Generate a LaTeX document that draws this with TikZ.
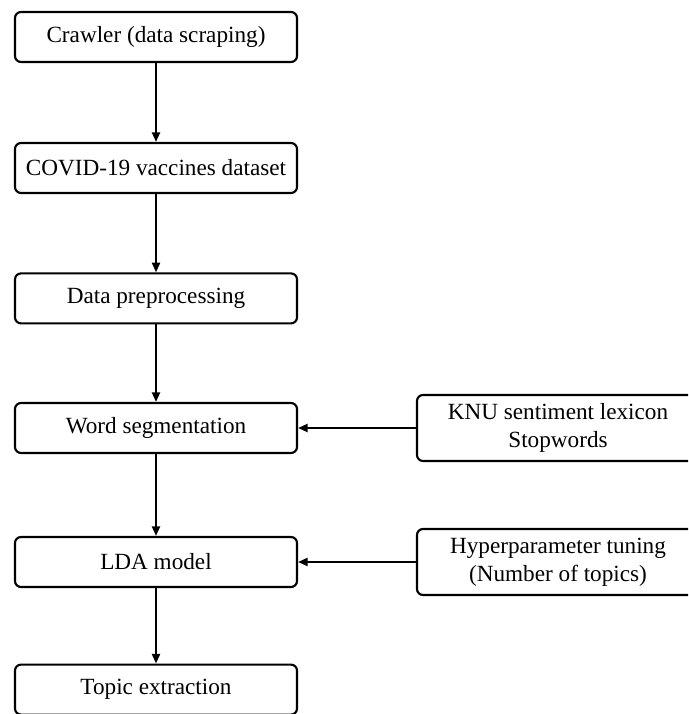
\documentclass[tikz,border=0pt]{standalone}
\usepackage{fontspec}
\setmainfont{Liberation Serif}
\usetikzlibrary{arrows.meta}

\tikzset{
  schritt/.style={draw, line width=1.5pt, rounded corners=0.15cm, minimum width=7.05cm, minimum height=1.25cm, align=center, font=\fontsize{16.5}{20}\selectfont},
  extra/.style={schritt, minimum height=1.65cm},
  pfeil/.style={line width=1.5pt, -{Triangle[length=0.24cm, width=0.2cm]}}
}

\begin{document}
\begin{tikzpicture}
      % Rahmen des Bildes
      \clip (0,0) rectangle (17.2,17.85);

      % Hauptablauf (linke Spalte)
      \node[schritt] (crawler) at (3.9,16.925) {Crawler (data scraping)};
      \node[schritt] (dataset) at (3.9,13.65) {COVID-19 vaccines dataset};
      \node[schritt] (preproc) at (3.9,10.39) {Data preprocessing};
      \node[schritt] (segment) at (3.9,7.15) {Word segmentation};
      \node[schritt] (lda) at (3.9,3.8) {LDA model};
      \node[schritt] (topics) at (3.9,0.61) {Topic extraction};

      % Zusatzeingaben (rechte Spalte)
      \node[extra] (lexicon) at (13.95,7.15) {KNU sentiment lexicon\\Stopwords};
      \node[extra] (tuning) at (13.95,3.8) {Hyperparameter tuning\\(Number of topics)};

      % Pfeile nach unten
      \draw[pfeil] (crawler) -- (dataset);
      \draw[pfeil] (dataset) -- (preproc);
      \draw[pfeil] (preproc) -- (segment);
      \draw[pfeil] (segment) -- (lda);
      \draw[pfeil] (lda) -- (topics);

      % Pfeile von rechts
      \draw[pfeil] (lexicon) -- (segment);
      \draw[pfeil] (tuning) -- (lda);
\end{tikzpicture}
\end{document}
